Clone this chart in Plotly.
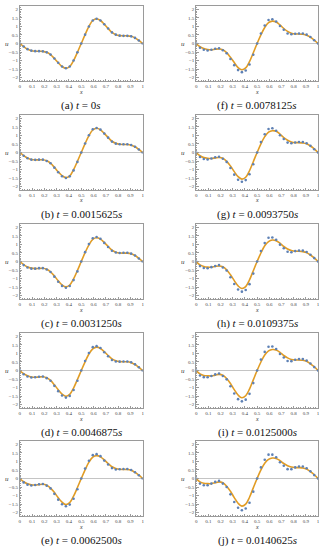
import plotly.graph_objects as go

# ---------------- data ----------------
x_pts = [0, 0.03125, 0.0625, 0.09375, 0.125, 0.15625, 0.1875, 0.21875, 0.25,
         0.28125, 0.3125, 0.34375, 0.375, 0.40625, 0.4375, 0.46875, 0.5,
         0.53125, 0.5625, 0.59375, 0.625, 0.65625, 0.6875, 0.71875, 0.75,
         0.78125, 0.8125, 0.84375, 0.875, 0.90625, 0.9375, 0.96875, 1]

captions = ["(a) <i>t</i> = 0<i>s</i>",
            "(b) <i>t</i> = 0.0015625<i>s</i>",
            "(c) <i>t</i> = 0.0031250<i>s</i>",
            "(d) <i>t</i> = 0.0046875<i>s</i>",
            "(e) <i>t</i> = 0.0062500<i>s</i>",
            "(f) <i>t</i> = 0.0078125<i>s</i>",
            "(g) <i>t</i> = 0.0093750<i>s</i>",
            "(h) <i>t</i> = 0.0109375<i>s</i>",
            "(i) <i>t</i> = 0.0125000<i>s</i>",
            "(j) <i>t</i> = 0.0140625<i>s</i>"]

exact_a = [0, -0.18, -0.33, -0.42, -0.45, -0.45, -0.46, -0.52, -0.65, -0.88, -1.13, -1.35, -1.45, -1.35, -1.00, -0.52, 0, 0.52, 1.00, 1.35, 1.45, 1.35, 1.13, 0.88, 0.65, 0.52, 0.46, 0.45, 0.45, 0.42, 0.33, 0.18, 0]
exact_b = [0, -0.18, -0.32, -0.41, -0.43, -0.43, -0.43, -0.49, -0.63, -0.87, -1.13, -1.36, -1.47, -1.37, -1.01, -0.52, 0, 0.52, 0.99, 1.32, 1.42, 1.33, 1.12, 0.88, 0.66, 0.54, 0.48, 0.47, 0.47, 0.43, 0.34, 0.18, 0]
exact_c = [0, -0.18, -0.32, -0.39, -0.42, -0.41, -0.40, -0.46, -0.61, -0.85, -1.13, -1.37, -1.49, -1.38, -1.02, -0.53, 0, 0.52, 0.98, 1.30, 1.39, 1.31, 1.11, 0.88, 0.67, 0.55, 0.50, 0.49, 0.49, 0.45, 0.35, 0.19, 0]
exact_d = [0, -0.19, -0.31, -0.38, -0.40, -0.38, -0.37, -0.43, -0.58, -0.84, -1.13, -1.38, -1.51, -1.40, -1.03, -0.53, 0, 0.51, 0.97, 1.27, 1.37, 1.29, 1.10, 0.88, 0.68, 0.57, 0.52, 0.51, 0.51, 0.46, 0.35, 0.19, 0]
exact_e = [0, -0.19, -0.31, -0.37, -0.38, -0.36, -0.34, -0.40, -0.56, -0.82, -1.13, -1.39, -1.53, -1.42, -1.04, -0.53, 0, 0.51, 0.96, 1.25, 1.34, 1.27, 1.09, 0.88, 0.69, 0.59, 0.54, 0.53, 0.53, 0.48, 0.36, 0.20, 0]
exact_f = [0, -0.19, -0.30, -0.35, -0.37, -0.34, -0.32, -0.37, -0.54, -0.81, -1.12, -1.41, -1.54, -1.43, -1.06, -0.54, 0, 0.51, 0.94, 1.22, 1.31, 1.26, 1.09, 0.88, 0.71, 0.60, 0.56, 0.56, 0.54, 0.49, 0.37, 0.20, 0]
exact_g = [0, -0.19, -0.30, -0.34, -0.35, -0.32, -0.29, -0.34, -0.52, -0.79, -1.12, -1.42, -1.56, -1.45, -1.07, -0.54, 0, 0.51, 0.93, 1.20, 1.28, 1.24, 1.08, 0.88, 0.72, 0.62, 0.58, 0.58, 0.56, 0.51, 0.38, 0.21, 0]
exact_h = [0, -0.20, -0.29, -0.33, -0.33, -0.29, -0.26, -0.31, -0.49, -0.78, -1.12, -1.43, -1.58, -1.47, -1.08, -0.54, 0, 0.50, 0.92, 1.17, 1.26, 1.22, 1.07, 0.88, 0.73, 0.64, 0.60, 0.60, 0.58, 0.52, 0.38, 0.21, 0]
exact_i = [0, -0.20, -0.29, -0.31, -0.32, -0.27, -0.23, -0.28, -0.47, -0.76, -1.12, -1.44, -1.60, -1.48, -1.09, -0.55, 0, 0.50, 0.91, 1.15, 1.23, 1.20, 1.06, 0.88, 0.74, 0.65, 0.62, 0.62, 0.60, 0.54, 0.39, 0.22, 0]
exact_j = [0, -0.20, -0.28, -0.30, -0.30, -0.25, -0.20, -0.25, -0.45, -0.75, -1.12, -1.45, -1.62, -1.50, -1.10, -0.55, 0, 0.50, 0.90, 1.12, 1.20, 1.18, 1.05, 0.88, 0.75, 0.67, 0.64, 0.64, 0.62, 0.55, 0.40, 0.22, 0]

num_a = [0, -0.18, -0.33, -0.42, -0.45, -0.45, -0.46, -0.52, -0.65, -0.88, -1.13, -1.35, -1.45, -1.35, -1.00, -0.52, 0, 0.52, 1.00, 1.35, 1.45, 1.35, 1.13, 0.88, 0.65, 0.52, 0.46, 0.45, 0.45, 0.42, 0.33, 0.18, 0]
num_b = [0, -0.19, -0.34, -0.42, -0.43, -0.42, -0.42, -0.50, -0.63, -0.89, -1.16, -1.39, -1.50, -1.40, -1.05, -0.55, 0, 0.53, 1.01, 1.36, 1.44, 1.34, 1.11, 0.87, 0.64, 0.52, 0.48, 0.48, 0.48, 0.44, 0.34, 0.18, 0]
num_c = [0, -0.21, -0.35, -0.42, -0.42, -0.39, -0.39, -0.47, -0.62, -0.89, -1.19, -1.43, -1.54, -1.44, -1.09, -0.58, 0, 0.55, 1.02, 1.36, 1.44, 1.33, 1.09, 0.85, 0.63, 0.53, 0.50, 0.51, 0.51, 0.46, 0.35, 0.18, 0]
num_d = [0, -0.22, -0.35, -0.41, -0.40, -0.37, -0.35, -0.45, -0.60, -0.90, -1.21, -1.47, -1.59, -1.49, -1.14, -0.60, 0, 0.56, 1.03, 1.37, 1.43, 1.32, 1.07, 0.84, 0.62, 0.53, 0.52, 0.53, 0.53, 0.48, 0.36, 0.19, 0]
num_e = [0, -0.23, -0.36, -0.41, -0.38, -0.34, -0.32, -0.42, -0.58, -0.90, -1.24, -1.51, -1.63, -1.53, -1.19, -0.63, 0, 0.58, 1.04, 1.37, 1.43, 1.31, 1.05, 0.82, 0.61, 0.53, 0.54, 0.56, 0.56, 0.50, 0.37, 0.19, 0]
num_f = [0, -0.25, -0.37, -0.41, -0.37, -0.31, -0.28, -0.40, -0.57, -0.91, -1.27, -1.56, -1.68, -1.58, -1.23, -0.66, 0, 0.59, 1.06, 1.38, 1.42, 1.29, 1.03, 0.81, 0.59, 0.54, 0.57, 0.59, 0.59, 0.52, 0.38, 0.19, 0]
num_g = [0, -0.26, -0.38, -0.41, -0.35, -0.28, -0.25, -0.37, -0.55, -0.91, -1.30, -1.60, -1.72, -1.62, -1.28, -0.69, 0, 0.61, 1.07, 1.38, 1.42, 1.28, 1.01, 0.79, 0.58, 0.54, 0.59, 0.62, 0.62, 0.54, 0.39, 0.19, 0]
num_h = [0, -0.27, -0.38, -0.40, -0.33, -0.26, -0.21, -0.35, -0.53, -0.92, -1.32, -1.64, -1.77, -1.67, -1.33, -0.71, 0, 0.62, 1.08, 1.39, 1.41, 1.27, 0.99, 0.78, 0.57, 0.54, 0.61, 0.64, 0.64, 0.56, 0.40, 0.20, 0]
num_i = [0, -0.29, -0.39, -0.40, -0.32, -0.23, -0.18, -0.32, -0.52, -0.92, -1.35, -1.68, -1.81, -1.71, -1.37, -0.74, 0, 0.64, 1.09, 1.39, 1.41, 1.26, 0.97, 0.76, 0.56, 0.55, 0.63, 0.67, 0.67, 0.58, 0.41, 0.20, 0]
num_j = [0, -0.30, -0.40, -0.40, -0.30, -0.20, -0.14, -0.30, -0.50, -0.93, -1.38, -1.72, -1.86, -1.76, -1.42, -0.77, 0, 0.65, 1.10, 1.40, 1.40, 1.25, 0.95, 0.75, 0.55, 0.55, 0.65, 0.70, 0.70, 0.60, 0.42, 0.20, 0]

exact_all = [exact_a, exact_b, exact_c, exact_d, exact_e,
             exact_f, exact_g, exact_h, exact_i, exact_j]
num_all = [num_a, num_b, num_c, num_d, num_e,
           num_f, num_g, num_h, num_i, num_j]

x_tickvals = [0, 0.1, 0.2, 0.3, 0.4, 0.5, 0.6, 0.7, 0.8, 0.9, 1]
x_ticktext = ["0", "0.1", "0.2", "0.3", "0.4", "0.5", "0.6", "0.7", "0.8", "0.9", "1"]
y_tickvals = [-2, -1.5, -1, -0.5, 0, 0.5, 1, 1.5, 2]
y_ticktext = ["\u22122", "\u22121.5", "\u22121", "\u22120.5", "0", "0.5", "1", "1.5", "2"]

# ---------------- layout ----------------
W, H = 325, 550
col_x = [(19, 143), (197, 320)]
row_top = [6, 115, 224, 333, 441]
ph = 75

ORANGE = "#E19C24"
BLUE = "#5E81B5"
FRAME = "#9a9a9a"
SERIF = "Liberation Serif, Times New Roman, serif"

fig = go.Figure()
layout = dict(width=W, height=H, margin=dict(l=0, r=0, t=0, b=0),
              paper_bgcolor="white", plot_bgcolor="white",
              showlegend=False, annotations=[])

for p in range(10):
    col, row = p // 5, p % 5
    n = p + 1
    xa = "x" if n == 1 else f"x{n}"
    ya = "y" if n == 1 else f"y{n}"
    x0, x1 = col_x[col]
    top = row_top[row]
    xd = [x0 / W, x1 / W]
    yd = [1 - (top + ph) / H, 1 - top / H]

    fig.add_trace(go.Scatter(x=x_pts, y=exact_all[p], mode="lines",
                             line=dict(color=ORANGE, width=1.6, shape="spline", smoothing=1.0),
                             xaxis=xa, yaxis=ya, hoverinfo="skip"))
    fig.add_trace(go.Scatter(x=x_pts, y=num_all[p], mode="markers",
                             marker=dict(color=BLUE, size=2.6),
                             xaxis=xa, yaxis=ya, hoverinfo="skip"))

    xkey = "xaxis" if n == 1 else f"xaxis{n}"
    ykey = "yaxis" if n == 1 else f"yaxis{n}"
    layout[xkey] = dict(domain=xd, anchor=ya, range=[0, 1],
                        tickvals=x_tickvals, ticktext=x_ticktext,
                        ticks="inside", ticklen=2.5, tickwidth=0.6, tickcolor=FRAME,
                        minor=dict(ticks="inside", ticklen=1.3, tickwidth=0.5,
                                   tickcolor=FRAME, dtick=0.02, tick0=0),
                        showline=True, linecolor=FRAME, linewidth=0.8, mirror=True,
                        showgrid=False, zeroline=False, ticklabeloverflow="allow",
                        tickfont=dict(family=SERIF, size=5, color="#444"))
    layout[ykey] = dict(domain=yd, anchor=xa, range=[-2.2, 2.2],
                        tickvals=y_tickvals, ticktext=y_ticktext,
                        ticks="inside", ticklen=2.5, tickwidth=0.6, tickcolor=FRAME,
                        minor=dict(ticks="inside", ticklen=1.3, tickwidth=0.5,
                                   tickcolor=FRAME, dtick=0.1, tick0=0),
                        showline=True, linecolor=FRAME, linewidth=0.8, mirror=True,
                        showgrid=False, zeroline=True, zerolinecolor="#c4c4c4",
                        zerolinewidth=1, ticklabeloverflow="allow",
                        tickfont=dict(family=SERIF, size=5, color="#444"))

    cx = (x0 + x1) / 2 / W
    layout["annotations"].append(dict(
        text=captions[p], x=cx, y=1 - (top + ph + 24) / H, xref="paper", yref="paper",
        showarrow=False, xanchor="center", yanchor="middle",
        font=dict(family=SERIF, size=11, color="#111")))
    layout["annotations"].append(dict(
        text="<i>u</i>", x=(x0 - 13) / W, y=1 - (top + ph * 0.5) / H,
        xref="paper", yref="paper", showarrow=False,
        xanchor="center", yanchor="middle",
        font=dict(family=SERIF, size=7, color="#333")))
    layout["annotations"].append(dict(
        text="<i>x</i>", x=cx, y=1 - (top + ph + 10.5) / H,
        xref="paper", yref="paper", showarrow=False,
        xanchor="center", yanchor="middle",
        font=dict(family=SERIF, size=6, color="#333")))

fig.update_layout(**layout)
fig.write_html("out.html", config={"displayModeBar": False},
               post_script="document.body.style.margin='0px';"
                           "document.body.style.overflow='hidden';")
